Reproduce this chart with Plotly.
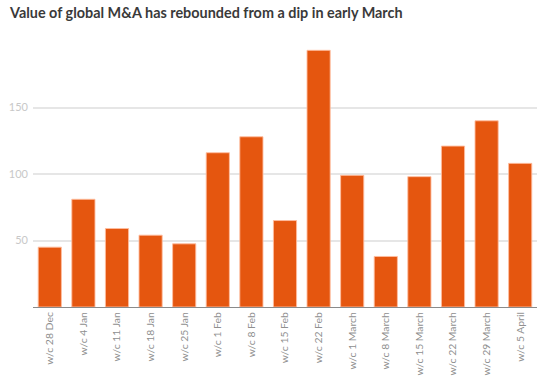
import plotly.graph_objects as go

categories = ["w/c 28 Dec", "w/c 4 Jan", "w/c 11 Jan", "w/c 18 Jan", "w/c 25 Jan",
              "w/c 1 Feb", "w/c 8 Feb", "w/c 15 Feb", "w/c 22 Feb", "w/c 1 March",
              "w/c 8 March", "w/c 15 March", "w/c 22 March", "w/c 29 March", "w/c 5 April"]
values = [45, 81, 59, 54, 47.5, 116, 128, 65, 193, 99, 38, 98, 121, 140, 108]
y_ticks = [50, 100, 150]

fig = go.Figure(go.Bar(
    x=categories, y=values,
    marker=dict(color="#E5560F", line=dict(color="rgba(255,190,160,0.9)", width=1)),
    hoverinfo="x+y",
))

fig.update_layout(
    width=550, height=384,
    margin=dict(l=33, r=13, t=45, b=77, autoexpand=False),
    paper_bgcolor="white", plot_bgcolor="white",
    bargap=0.31,
    showlegend=False,
    title=dict(text="<b>Value of global M&A has rebounded from a dip in early March</b>",
               x=10/550, xref="container", xanchor="left",
               y=1-13/384, yref="container", yanchor="middle",
               font=dict(family="Lato", size=14.4, color="#3a3a3a")),
    font=dict(family="Lato"),
)
fig.update_xaxes(
    tickangle=-90, tickfont=dict(size=10.4, color="#8f8f8f"),
    showline=True, linecolor="#8a8a8a", linewidth=1,
    ticks="", showgrid=False, fixedrange=True, automargin=False,
)
fig.update_yaxes(
    range=[0, 197], tickvals=y_ticks, ticktext=[str(v) for v in y_ticks],
    tickfont=dict(size=11, color="#c8c8c8"),
    showgrid=True, gridcolor="#e6e6e6", gridwidth=1.5,
    zeroline=False, showline=False, ticks="", ticklabelstandoff=4,
    fixedrange=True, automargin=False,
)

fig.write_html("out.html", config={"displayModeBar": False},
               post_script="document.body.style.margin='0';document.body.style.overflow='hidden';")
